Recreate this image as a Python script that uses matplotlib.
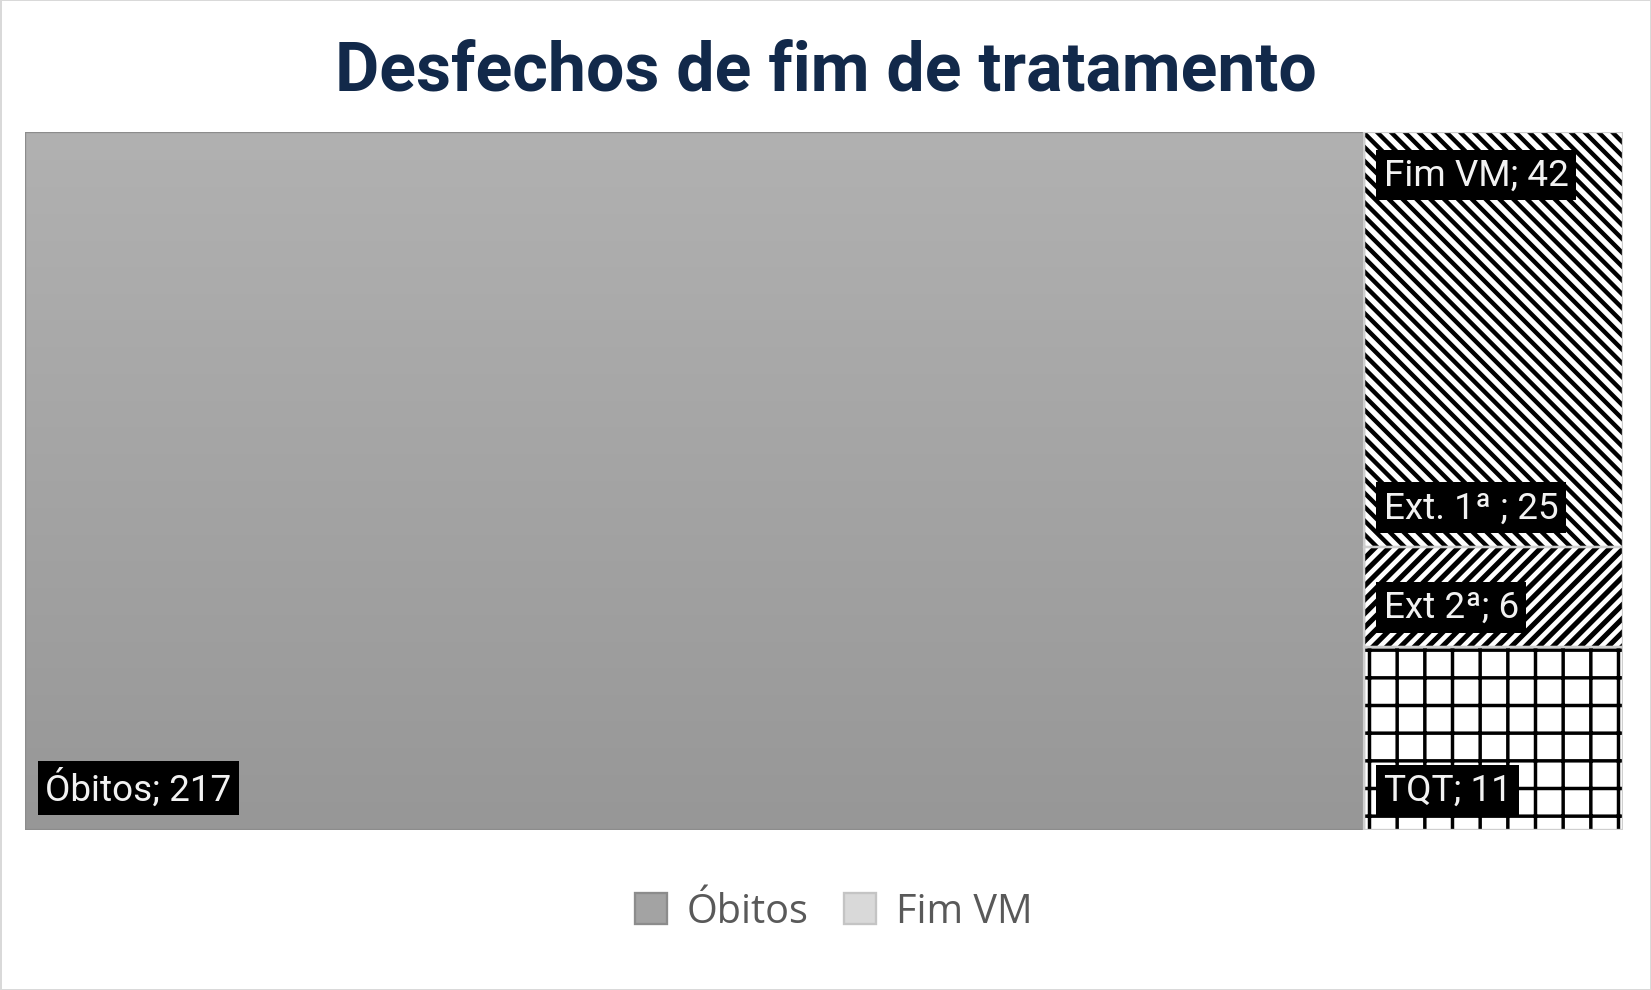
import numpy as np
import matplotlib
matplotlib.use("Agg")
import matplotlib.pyplot as plt
from matplotlib.patches import Rectangle, Patch
from matplotlib.colors import LinearSegmentedColormap

# data
parents = ['Óbitos', 'Fim VM']
parent_values = [217, 42]
fim_children = ['Ext. 1ª ', 'Ext 2ª', 'TQT']
fim_values = [25, 6, 11]
BS = chr(92)  # backslash
child_hatches = [BS * 4, '////', '+']
child_hatch_lw = [1.9, 2.2, 1.5]

title = 'Desfechos de fim de tratamento'
label_font = ['Liberation Sans Narrow', 'Roboto', 'DejaVu Sans']

DPI = 166
W, H = 1651, 991
fig = plt.figure(figsize=(W / DPI, H / DPI), dpi=DPI)
fig.patch.set_facecolor('white')
fig.patch.set_edgecolor('#d9d9d9')
fig.patch.set_linewidth(1.2)

# plot area in pixels: left 25, right 1623, top 133, bottom 831
ax = fig.add_axes([25 / W, (H - 831) / H, (1623 - 25) / W, (831 - 133) / H])
ax.set_xlim(0, 1)
ax.set_ylim(0, 1)
ax.axis('off')

total = sum(parent_values)


def put_label(text, x, y, va):
    dy = 22 if va == 'bottom' else -25
    ax.annotate(text, (x, y), xytext=(20, dy), textcoords='offset pixels',
                ha='left', va=va, color='#f2f2f2', fontsize=16,
                family=label_font,
                bbox=dict(boxstyle='square,pad=0.2', fc='black', ec='none'))


# parent split along x
x0 = 0.0
for name, val in zip(parents, parent_values):
    w = val / total
    if name == 'Óbitos':
        cmap = LinearSegmentedColormap.from_list('g', ['#979797', '#b1b1b1'])
        grad = np.linspace(0, 1, 256).reshape(-1, 1)
        im = ax.imshow(grad, cmap=cmap, origin='lower', aspect='auto',
                       extent=(x0, x0 + w, 0, 1), zorder=1)
        r = Rectangle((x0, 0), w, 1, fc='none', ec='#8c8c8c', lw=1.0, zorder=3)
        ax.add_patch(r)
        im.set_clip_path(r)
        put_label(f'{name}; {val}', x0, 0, 'bottom')
    else:
        # children stacked top to bottom
        ytop = 1.0
        for cname, cval, hatch, hlw in zip(fim_children, fim_values,
                                           child_hatches, child_hatch_lw):
            h = cval / val
            with plt.rc_context({'hatch.linewidth': hlw, 'hatch.color': 'black'}):
                r = Rectangle((x0, ytop - h), w, h, fc='white', ec='black',
                              lw=0, hatch=hatch, zorder=2)
            ax.add_patch(r)
            ax.add_patch(Rectangle((x0, ytop - h), w, h, fc='none',
                                   ec='#cfcfcf', lw=1.0, zorder=3))
            put_label(f'{cname}; {cval}', x0, ytop - h, 'bottom')
            ytop -= h
        put_label(f'{name}; {val}', x0, 1, 'top')
    x0 += w

fig.text(0.5, 1 - 72 / H, title, ha='center', va='center',
         fontsize=29.5, fontweight='bold', color='#12294a',
         family=['Roboto', 'DejaVu Sans'])

handles = [Patch(fc='#a3a3a3', ec='#8c8c8c', lw=1.0, label='Óbitos'),
           Patch(fc='#d9d9d9', ec='#c4c4c4', lw=1.0, label='Fim VM')]
fig.legend(handles=handles, loc='center', bbox_to_anchor=(0.505, 1 - 913 / H),
           ncol=2, frameon=False, handlelength=0.8, handleheight=0.8,
           handletextpad=0.5, columnspacing=0.9,
           prop={'family': ['Open Sans', 'DejaVu Sans'], 'size': 17.2},
           labelcolor='#595959')

fig.savefig('out.png', dpi=DPI)
